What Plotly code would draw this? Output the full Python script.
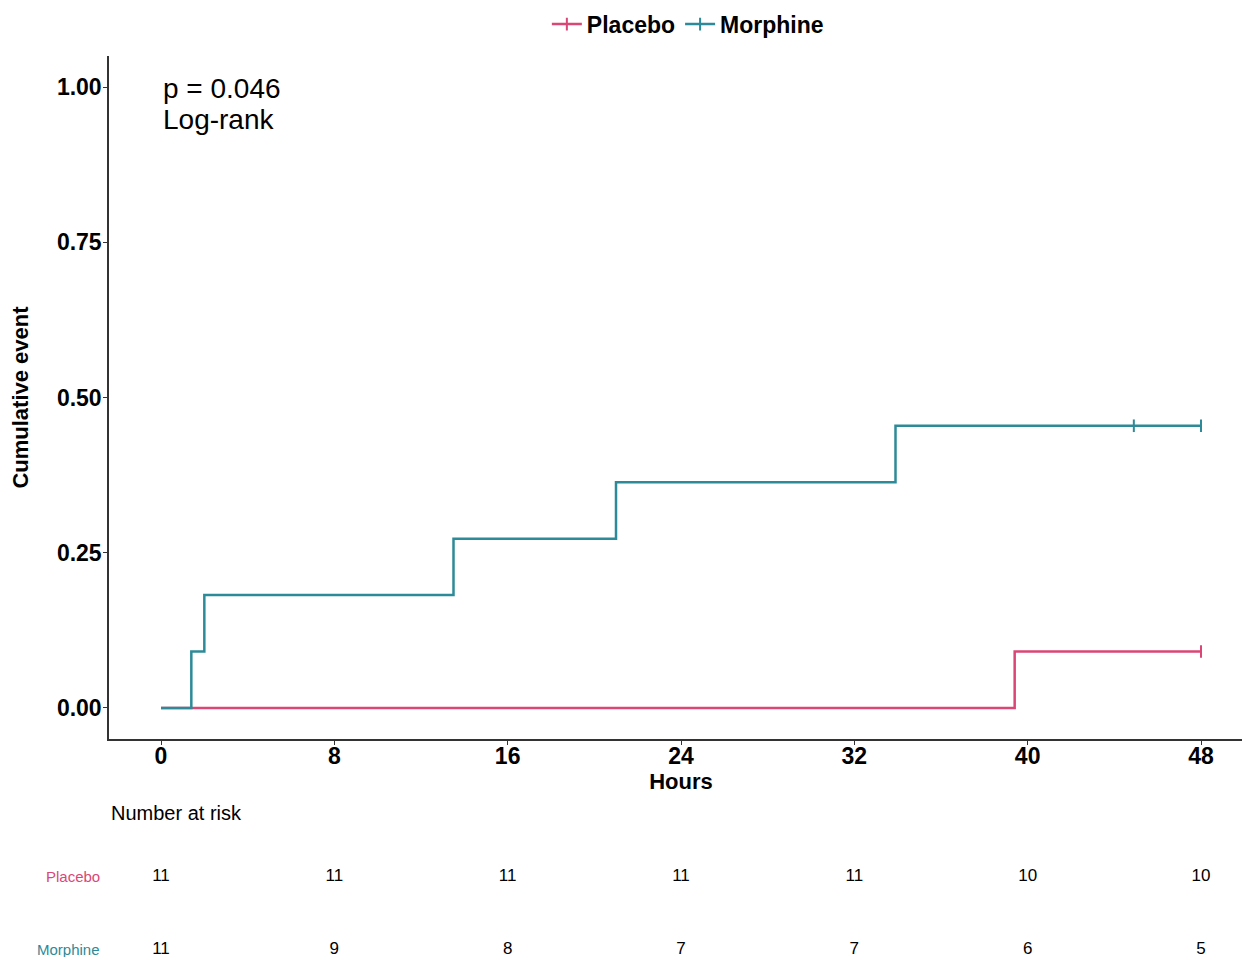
import plotly.graph_objects as go

# ---- data ----
groups = ["Placebo", "Morphine"]
placebo_times = [0, 39.4, 48]
placebo_cum = [0, 0.0909, 0.0909]
placebo_censor_times = [48]
placebo_censor_cum = [0.0909]

morphine_times = [0, 1.4, 2.0, 13.5, 21.0, 33.9, 48]
morphine_cum = [0, 0.0909, 0.1818, 0.2727, 0.3636, 0.4545, 0.4545]
morphine_censor_times = [44.9, 48]
morphine_censor_cum = [0.4545, 0.4545]

risk_times = [0, 8, 16, 24, 32, 40, 48]
placebo_risk = [11, 11, 11, 11, 11, 10, 10]
morphine_risk = [11, 9, 8, 7, 7, 6, 5]

x_ticks = [0, 8, 16, 24, 32, 40, 48]
y_ticks = [0, 0.25, 0.5, 0.75, 1.0]
y_tick_labels = ["0.00", "0.25", "0.50", "0.75", "1.00"]

PINK = "#DA4776"
TEAL = "#2D8A98"
FONT = "Liberation Sans, Arial, sans-serif"

fig = go.Figure()

# step curves (placebo below morphine)
fig.add_trace(go.Scatter(x=placebo_times, y=placebo_cum, mode="lines",
                         line=dict(color=PINK, width=2.5, shape="hv"),
                         showlegend=False, hoverinfo="skip"))
fig.add_trace(go.Scatter(x=morphine_times, y=morphine_cum, mode="lines",
                         line=dict(color=TEAL, width=2.5, shape="hv"),
                         showlegend=False, hoverinfo="skip"))
# censor marks
fig.add_trace(go.Scatter(x=placebo_censor_times, y=placebo_censor_cum, mode="markers",
                         marker=dict(symbol="line-ns-open", size=9, color=PINK,
                                     line=dict(color=PINK, width=2)),
                         showlegend=False))
fig.add_trace(go.Scatter(x=morphine_censor_times, y=morphine_censor_cum, mode="markers",
                         marker=dict(symbol="line-ns-open", size=9, color=TEAL,
                                     line=dict(color=TEAL, width=2)),
                         showlegend=False))
# legend entries
for name, col in zip(groups, [PINK, TEAL]):
    fig.add_trace(go.Scatter(x=[None], y=[None], mode="lines+markers", name=name,
                             line=dict(color=col, width=2.5),
                             marker=dict(symbol="line-ns-open", size=9, color=col,
                                         line=dict(color=col, width=2))))

# risk table
fig.add_trace(go.Scatter(x=risk_times, y=[1] * len(risk_times), mode="text",
                         text=[str(v) for v in placebo_risk], cliponaxis=False,
                         textfont=dict(family=FONT, size=17, color="black"),
                         xaxis="x", yaxis="y2", showlegend=False, hoverinfo="skip"))
fig.add_trace(go.Scatter(x=risk_times, y=[0] * len(risk_times), mode="text",
                         text=[str(v) for v in morphine_risk], cliponaxis=False,
                         textfont=dict(family=FONT, size=17, color="black"),
                         xaxis="x", yaxis="y2", showlegend=False, hoverinfo="skip"))

# annotations
fig.add_annotation(x=0, y=0.998, xref="x", yref="y", text="p = 0.046", showarrow=False,
                   xanchor="left", yanchor="middle", font=dict(family=FONT, size=28, color="black"))
fig.add_annotation(x=0, y=0.948, xref="x", yref="y", text="Log-rank", showarrow=False,
                   xanchor="left", yanchor="middle", font=dict(family=FONT, size=28, color="black"))
fig.add_annotation(x=0, y=1.877, xref="paper", yref="y2", text="Number at risk", showarrow=False,
                   xanchor="left", yanchor="middle", font=dict(family=FONT, size=20, color="black"))
fig.add_annotation(x=-0.006, y=1, xref="paper", yref="y2", text="Placebo", showarrow=False,
                   xanchor="right", yanchor="middle", font=dict(family=FONT, size=15, color=PINK))
fig.add_annotation(x=-0.006, y=0, xref="paper", yref="y2", text="Morphine", showarrow=False,
                   xanchor="right", yanchor="middle", font=dict(family=FONT, size=15, color=TEAL))

fig.update_layout(
    width=1245, height=949,
    margin=dict(l=101, r=0, t=48, b=5),
    plot_bgcolor="white", paper_bgcolor="white",
    font=dict(family=FONT, color="black"),
    legend=dict(orientation="h", x=0.506, xanchor="center", xref="paper",
                y=0.983, yanchor="middle", yref="container",
                font=dict(family=FONT, size=23, color="black", weight="bold"),
                itemwidth=30, tracegroupgap=0),
    xaxis=dict(range=[-2.4, 50.4], tickvals=x_ticks, ticktext=[str(t) for t in x_ticks],
               showgrid=False, zeroline=False, showline=True, linecolor="#333333", linewidth=1.5,
               ticks="outside", ticklen=4, tickcolor="#333333", tickwidth=1.2,
               ticklabelstandoff=-8, automargin=False,
               tickfont=dict(family=FONT, size=23, color="black", weight="bold"),
               title=dict(text="Hours", font=dict(family=FONT, size=22, color="black", weight="bold"),
                          standoff=0),
               anchor="y"),
    yaxis=dict(domain=[0.2377, 1.0], range=[-0.05, 1.05], tickvals=y_ticks, ticktext=y_tick_labels,
               showgrid=False, zeroline=False, showline=True, linecolor="#333333", linewidth=1.5,
               ticks="outside", ticklen=4, tickcolor="#333333", tickwidth=1.2,
               ticklabelstandoff=-3, automargin=False,
               tickfont=dict(family=FONT, size=23, color="black", weight="bold"),
               title=dict(text="Cumulative event", font=dict(family=FONT, size=22, color="black", weight="bold"),
                          standoff=22)),
    yaxis2=dict(domain=[0, 0.2], range=[-0.028, 2.427], visible=False, showgrid=False,
                zeroline=False, anchor="x"),
)

fig.write_html("out.html")
